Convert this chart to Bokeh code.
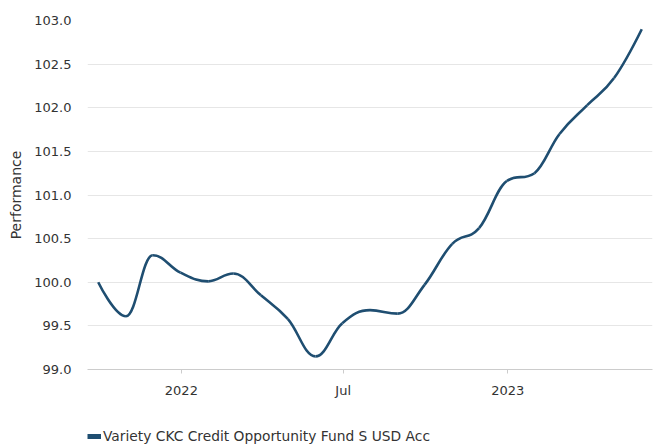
import pandas as pd
from bokeh.plotting import figure
from bokeh.layouts import column
from bokeh.models import FixedTicker, Range1d, Legend, LegendItem, ColumnDataSource
from bokeh.embed import file_html
from bokeh.resources import INLINE

# ---- data ----
dates = ["2021-09-30", "2021-10-31", "2021-11-30", "2021-12-31", "2022-01-31",
         "2022-02-28", "2022-03-31", "2022-04-30", "2022-05-31", "2022-06-30",
         "2022-07-31", "2022-08-31", "2022-09-30", "2022-10-31", "2022-11-30",
         "2022-12-31", "2023-01-31", "2023-02-28", "2023-03-31", "2023-04-30",
         "2023-05-31"]
performance = [100.00, 99.61, 100.31, 100.11, 100.01, 100.10, 99.85, 99.58, 99.15,
               99.53, 99.68, 99.64, 99.97, 100.44, 100.62, 101.16, 101.25, 101.70,
               102.03, 102.34, 102.90]
series_name = "Variety CKC Credit Opportunity Fund S USD Acc"
x_tick_dates = ["2022-01-01", "2022-07-01", "2023-01-01"]
x_tick_labels = ["2022", "Jul", "2023"]
y_ticks = [99.0, 99.5, 100.0, 100.5, 101.0, 101.5, 102.0, 102.5, 103.0]
x_start, x_end = "2021-09-18", "2023-06-12"


def ms(d):
    return pd.Timestamp(d).value / 1e6


xs = [ms(d) for d in dates]
ys = list(performance)

# ---- spline control points (Highcharts-style smoothing) ----
n = len(xs)
left = [None] * n
right = [None] * n
sm = 1.5
den = sm + 1
for i in range(1, n - 1):
    px, py = xs[i], ys[i]
    lx, ly = xs[i - 1], ys[i - 1]
    nx, ny = xs[i + 1], ys[i + 1]
    lcx = (sm * px + lx) / den
    lcy = (sm * py + ly) / den
    rcx = (sm * px + nx) / den
    rcy = (sm * py + ny) / den
    corr = ((rcy - lcy) * (rcx - px)) / (rcx - lcx) + py - rcy
    lcy += corr
    rcy += corr
    if lcy > ly and lcy > py:
        lcy = max(ly, py)
        rcy = 2 * py - lcy
    elif lcy < ly and lcy < py:
        lcy = min(ly, py)
        rcy = 2 * py - lcy
    if rcy > ny and rcy > py:
        rcy = max(ny, py)
        lcy = 2 * py - rcy
    elif rcy < ny and rcy < py:
        rcy = min(ny, py)
        lcy = 2 * py - rcy
    left[i] = (lcx, lcy)
    right[i] = (rcx, rcy)

seg = dict(x0=[], y0=[], x1=[], y1=[], cx0=[], cy0=[], cx1=[], cy1=[])
for i in range(1, n):
    c0 = right[i - 1] if right[i - 1] else (xs[i - 1], ys[i - 1])
    c1 = left[i] if left[i] else (xs[i], ys[i])
    seg["x0"].append(xs[i - 1]); seg["y0"].append(ys[i - 1])
    seg["x1"].append(xs[i]); seg["y1"].append(ys[i])
    seg["cx0"].append(c0[0]); seg["cy0"].append(c0[1])
    seg["cx1"].append(c1[0]); seg["cy1"].append(c1[1])

LINE = "#1f4e71"
FONT = "DejaVu Sans"
TXT = "#333333"

p = figure(width=653, height=400, output_backend="svg", toolbar_location=None,
           x_range=Range1d(ms(x_start), ms(x_end)), y_range=Range1d(99, 103),
           min_border_left=87, min_border_right=1, min_border_top=20, min_border_bottom=29)
p.outline_line_color = None

p.bezier(x0="x0", y0="y0", x1="x1", y1="y1", cx0="cx0", cy0="cy0", cx1="cx1", cy1="cy1",
         source=ColumnDataSource(seg), line_color=LINE, line_width=2.6)

# x axis
tick_ms = [ms(d) for d in x_tick_dates]
p.xaxis.ticker = FixedTicker(ticks=tick_ms)
p.xaxis.major_label_overrides = {t: lab for t, lab in zip(tick_ms, x_tick_labels)}
p.xaxis.axis_line_color = "#cccccc"
p.xaxis.major_tick_line_color = "#cccccc"
p.xaxis.major_tick_out = 4
p.xaxis.major_tick_in = 0
p.xaxis.minor_tick_line_color = None
p.xaxis.major_label_standoff = 9
p.xaxis.major_label_text_font = FONT
p.xaxis.major_label_text_font_size = "13px"
p.xaxis.major_label_text_color = TXT
p.xgrid.grid_line_color = None

# y axis
p.yaxis.ticker = FixedTicker(ticks=y_ticks)
p.yaxis.major_label_overrides = {v: f"{v:.1f}" for v in y_ticks}
p.yaxis.axis_line_color = None
p.yaxis.major_tick_line_color = None
p.yaxis.minor_tick_line_color = None
p.yaxis.major_tick_out = 0
p.yaxis.major_tick_in = 0
p.yaxis.major_label_standoff = 16
p.yaxis.major_label_text_font = FONT
p.yaxis.major_label_text_font_size = "13px"
p.yaxis.major_label_text_color = TXT
p.yaxis.axis_label = "Performance"
p.yaxis.axis_label_text_font = FONT
p.yaxis.axis_label_text_font_size = "14px"
p.yaxis.axis_label_text_font_style = "normal"
p.yaxis.axis_label_text_color = TXT
p.yaxis.axis_label_standoff = 7
p.ygrid.grid_line_color = "#e6e6e6"
p.ygrid.grid_line_width = 1

# legend strip below the chart
lg = figure(width=653, height=45, output_backend="svg", toolbar_location=None,
            x_axis_type=None, y_axis_type=None,
            x_range=Range1d(0, 1), y_range=Range1d(0, 1),
            min_border_left=0, min_border_right=0, min_border_top=0, min_border_bottom=0)
lg.grid.visible = False
lg.outline_line_color = None
swatch = lg.line(x=[0.5], y=[0.5], line_color=LINE, line_width=5)
legend = Legend(items=[LegendItem(label=series_name, renderers=[swatch])],
                location=(0, 1.5), orientation="horizontal",
                glyph_width=14, glyph_height=12, label_height=12, label_standoff=2,
                padding=0, margin=0, border_line_color=None, background_fill_alpha=0,
                label_text_font=FONT, label_text_font_size="13.8px", label_text_color=TXT)
lg.add_layout(legend, "center")

layout = column(p, lg, spacing=0)
open("out.html", "w").write(file_html(layout, INLINE))
